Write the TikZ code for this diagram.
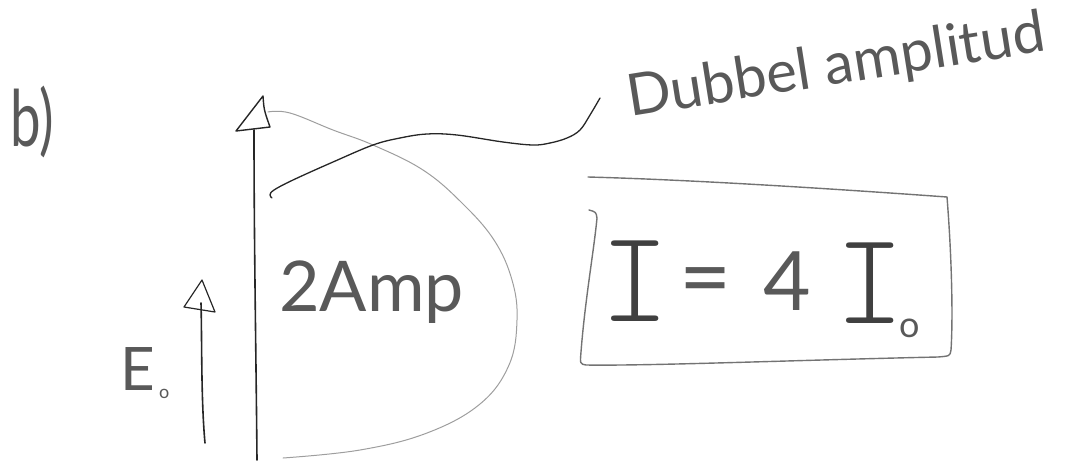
\documentclass[tikz,border=0pt]{standalone}
\usepackage{fontspec}
\newfontfamily\hand{Lato}
\newfontfamily\handmono{lmmonolt10-regular.otf}
\tikzset{
  ink/.style={draw=black!85, line width=1.6pt, line cap=round, line join=round},
  faint/.style={draw=black!38, line width=1pt, line cap=round},
  boxink/.style={draw=black!55, line width=1.4pt, line cap=round, line join=round},
  txt/.style={inner sep=0pt, text=black!65},
}
\begin{document}
\begin{tikzpicture}[x=1pt,y=-1pt]
\useasboundingbox (0,0) rectangle (1066,472);
% label b)
\node[txt, anchor=base west, xscale=0.7] (lab) at (10,146) {\hand\fontsize{78}{80}\selectfont b)};
% big arrow
\coordinate (bigbot) at (257,460);
\coordinate (bigtop) at (254,130);
\draw[ink] (bigbot) .. controls (256,350) and (254,240) .. (bigtop);
\draw[ink, line width=1.4pt] (236,131) -- (263,96) .. controls (264,110) .. (270,127) -- cycle;
% small arrow
\coordinate (smbot) at (205,443);
\coordinate (smtop) at (201,303);
\draw[ink] (smbot) .. controls (201,400) and (202,340) .. (smtop);
\draw[ink, line width=1.2pt] (184,307) -- (202,280) -- (215,312) -- cycle;
% E0 label
\node[txt, anchor=base west] (E) at (120,390) {\hand\fontsize{60}{62}\selectfont E};
\node[txt, anchor=base west] (Esub) at (159,398) {\hand\fontsize{18}{20}\selectfont o};
% faint bowl curve
\draw[faint] plot[smooth, tension=0.65] coordinates {(268,112) (290,113) (333,130) (373,145) (423,170) (462,203) (494,240) (512,280) (517,320) (509,365) (480,404) (427,433) (360,450) (283,458)};
% dark connector curve
\draw[ink, line width=1.3pt] plot[smooth, tension=0.6] coordinates {(272,198) (270,195) (274,190) (293,180) (333,162) (373,145) (400,138) (427,134) (457,135) (503,142) (533,145) (550,143) (567,138) (580,130) (590,115) (600,98)};
% 2Amp
\node[txt, anchor=base west] (amp) at (279,311) {\hand\fontsize{70}{72}\selectfont 2Amp};
% Dubbel amplitud
\node[txt, anchor=base west, rotate=9] (dub) at (630,117) {\hand\fontsize{58}{60}\selectfont Dubbel amplitud};
% box
\draw[boxink] (588,177) .. controls (700,180) and (850,190) .. (947,197)
  .. controls (952,260) and (953,320) .. (951,350) .. controls (950,356) .. (938,357)
  .. controls (800,360) and (650,366) .. (586,365) .. controls (580,364) .. (581,352)
  .. controls (585,300) and (594,250) .. (597,218) .. controls (596,212) .. (589,210);
% I = 4 I_o
\node[txt, text=black!75] (I1) at (635,281) {\handmono\fontsize{132}{132}\selectfont I};
\node[txt] (eq) at (706,288) {\hand\fontsize{90}{90}\selectfont =};
\node[txt, anchor=base west] (four) at (763,310) {\hand\fontsize{82}{84}\selectfont 4};
\node[txt, text=black!75] (I2) at (870,283) {\handmono\fontsize{132}{132}\selectfont I};
\node[txt, anchor=base west] (Isub) at (899,337) {\hand\fontsize{36}{38}\selectfont o};
\end{tikzpicture}
\end{document}
